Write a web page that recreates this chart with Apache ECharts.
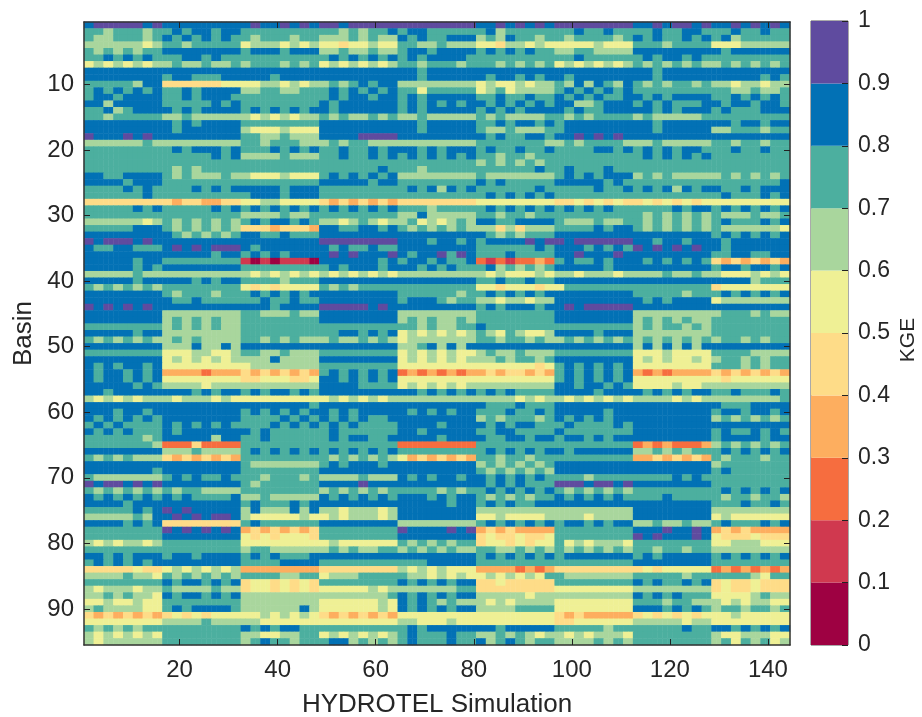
<!DOCTYPE html>
<html><head><meta charset="utf-8">
<style>html,body{margin:0;padding:0;background:#fff}#c{width:922px;height:717px}</style>
<script src="https://cdn.jsdelivr.net/npm/echarts@6/dist/echarts.min.js"></script>
</head><body><div id="c"></div>
<script>
// Colour class of each basin (rows) per pair of simulations (two columns per digit).
// digit d means KGE between d/10 and (d+1)/10.
const kgeRows = [
"89999989 88888888 89889898 99899999 99999999 88989898 99999999 88989989 88989898",
"77677767 78788788 77777777 77676778 78877777 78677777 77877877 77877887 77877877",
"76677767 87878787 76777677 66676766 87877888 67687767 76777767 87877878 78677777",
"66666656 77677777 56665656 55455655 77667666 55466565 55556555 77767777 55566666",
"76767677 88888888 78887888 66766766 78878888 78787877 66776666 88888888 87888888",
"77878787 77887877 77777777 78787878 78788887 77777777 77877777 78788787 77777777",
"56565656 67667667 67776767 56565656 77677767 77676767 56565656 76767676 67676767",
"88888888 88888888 88888888 88888888 88788888 88888888 88888888 88788888 88888888",
"88888888 78877788 88878888 88888888 88788888 87887878 87888888 88788888 88888787",
"77777688 44444455 55665656 67678788 66666666 56556566 76868768 76767767 66566566",
"78787878 77878888 66776677 78787878 77577777 56756666 78787878 77777777 77667667",
"78878888 77878887 77777777 78788788 78788888 77877877 87878778 87878888 77878787",
"88688888 77777878 77777777 87888888 78787878 87878787 88667888 78787778 87887887",
"77867888 87878888 78787878 87888888 78788888 78787888 87877888 88787888 78777888",
"77677777 66766666 65656566 76766767 66766666 76766667 76767777 67666667 77777777",
"88888888 87878888 77777777 88888888 88788888 77878878 78888888 88788888 88788788",
"88888888 87888888 65556555 88888888 88788888 76676667 78888888 88788888 66777677",
"98889898 88888888 77667666 88889999 88888888 87877887 88989898 88888888 88888888",
"66666676 66666666 77677766 67677666 66666666 77777776 67677776 66766666 77677677",
"77777777 78788878 77787878 77877878 88787888 78778778 77778878 78787887 77877877",
"77777777 77777878 66667666 77877878 78787878 77677677 77777777 78787878 77777777",
"77777777 77777777 77777777 77777777 77777777 67676767 77777777 77777777 77777777",
"77777777 76767777 77777777 77777787 77677777 77777787 78777877 77777777 77777777",
"88778888 76766676 65556555 78787878 66666666 76666666 78787888 67676666 67676767",
"88887888 77777777 77777777 88888788 77777777 87877777 88888787 77777777 77777778",
"77778787 77787878 88887888 77777777 78786878 77777787 77778778 78786878 87787888",
"77777787 77777777 78887888 77777777 77777777 78787878 77777777 77777777 78777878",
"44444444 43443344 55665555 43434343 44444444 55555555 44545454 45454545 55555555",
"77777878 77777878 78787878 78787878 77767777 78787878 78787877 77778788 78787878",
"77777777 77777777 66667667 77777777 66866666 77677677 77777777 76767676 76667667",
"66666656 76767676 78788787 66567656 67565676 88778888 76667667 76767676 78777878",
"77777888 76767676 44434443 88778878 76767676 66464666 77778788 76767676 76666665",
"88888888 87676767 88778777 88888888 88888888 87676777 88888888 88888888 78787878",
"98999898 88888888 88888888 99999999 88878878 78888989 98999999 88788788 87888888",
"87788777 89898999 87888888 87877877 88888888 77777787 88878787 98989898 87888888",
"88888888 88888788 78787888 89898889 87889798 77787777 88988898 88888888 77887788",
"88888788 77777777 10101110 88888878 78878778 21212232 78778788 87878787 43434343",
"88888787 88888888 77777777 78788878 88787877 78676767 88888788 88888888 78878878",
"66666766 66666666 65656565 65656565 66666666 65655565 66566656 66676676 65556565",
"88888788 88878788 77776777 88888888 88888888 77877877 88888888 88888888 88886777",
"76767676 77777777 54545555 76767777 77777777 55455545 57777777 77777777 45555555",
"88888888 76777677 78787878 88888888 77777767 78787878 88888888 77777677 78787878",
"88888888 87787777 77877877 88888888 78887677 66566566 88888888 87878888 56666666",
"98989898 88888888 88878888 99999898 88888888 78788878 89899999 88888888 88888888",
"88888888 66666666 77666766 88888888 66666666 77777777 88888888 66666666 67776766",
"88888888 67676766 77777777 88888888 67676676 77777777 88888888 67676766 77777777",
"77777777 67676766 77777777 77777777 77676677 87777777 77777777 67677676 77777777",
"88888788 66666666 77777777 77887878 56565656 76576556 88887888 66666666 77777777",
"76767676 67676666 77676766 67667676 56666666 77677676 67676767 67676767 67767677",
"88888888 66686686 88888888 88888888 66786868 88888888 88888888 68686868 88888888",
"77777777 55566556 77667666 77777777 56565655 67667666 77777777 55565555 77776666",
"88888888 56565656 66686666 88888888 56565656 66767767 88888888 56565565 67767677",
"87878878 55555555 56666666 77777777 55555555 55555545 78787878 55555555 77767677",
"87887878 33332333 43434343 78787878 23232323 34344343 78787878 32323333 43434343",
"87887878 55555555 44555445 88787878 55555555 55555555 78787878 55555555 54555555",
"88888787 66665666 66666666 88887777 56565656 66666666 88788787 55556556 66666666",
"88788888 88878788 78788787 88888888 88787878 78787777 88887888 87878788 77877787",
"65656566 65666565 55555555 56565656 66666666 66665656 65656565 66665656 66666667",
"88888888 88888888 88888887 88888888 88888888 87778777 88888888 88888888 87778888",
"88878878 88888888 78787878 87878888 87878788 77787787 88888788 88888888 78878878",
"87878787 88888888 77778787 87878778 88888888 67677767 87878788 88888888 67676767",
"78787777 87878787 77787878 78787777 88887888 87878877 78777787 88888888 88888888",
"87878777 87888888 87877777 78777777 88788888 77887777 87777777 88888888 78778787",
"77777767 88888688 77877777 78788778 88887888 87788788 78878788 88888888 78888788",
"77777776 22242222 77777777 77777777 22222222 77777777 77777777 23232223 67676767",
"88888888 66676666 78787878 78787878 77777777 78787878 87888888 66767677 78787878",
"76767666 43434343 77777777 76767676 53434343 77677677 77777777 33434343 76777677",
"88888888 88888888 76666666 78788878 88888888 67676767 88888888 88888888 67777777",
"88888887 88888888 77777777 88888888 88888888 76767676 88888888 88888888 78777777",
"76666666 78787787 77677767 66667666 87878878 87878787 77767777 77778787 77777777",
"98998989 88888888 76777777 88889888 88888888 87878777 99989989 88888888 77777777",
"76767676 76776666 77777777 67676767 77776767 78787878 76767676 77777777 78787878",
"87878787 87877778 66766666 87878787 88878788 76767677 87878787 77787777 76776776",
"88887888 88888888 78777878 88888888 88888788 78787788 88888888 88888888 77787787",
"77777878 98988888 68666868 66566656 88888888 66666666 66666666 88888888 66666666",
"66666768 89898998 65555565 56566656 88888888 55655556 66656666 88888888 56555555",
"88887878 44444444 78777777 88888888 66666666 78787878 78878788 66766766 78777878",
"77777777 98989898 34343434 77777777 98888989 34343333 77777777 88898898 34343333",
"77777777 88888888 54545554 77777777 88888888 45445445 77777777 98988898 54445444",
"65656656 77777777 55555555 56555555 76767677 45545455 75656665 77777777 55666555",
"77777777 77777777 67766666 67676677 67676766 77667676 76767676 77677677 66666666",
"88787888 78878888 78787778 88888888 88888888 78787878 78888888 78788888 78787878",
"78787878 88888888 77778888 77777777 77788888 77777777 77777777 88888888 77777777",
"44444544 56565656 33333333 44444444 65656555 33332323 44444444 45455555 23232323",
"66667665 76767676 77776677 56667777 76656565 56565657 76666666 77777677 77776577",
"77777777 87887878 45545454 77777777 87878788 44544444 77777777 87877878 45445444",
"65666566 76666766 45545454 55555656 66666677 44444444 55555555 66666666 45445444",
"66767665 87887878 66666666 66666667 87878788 66666566 66666666 87878777 55556766",
"55655655 77777777 66666666 55555565 87876766 65656666 55555555 77767766 65656655",
"67666655 78788887 66666686 55555565 87878788 66667777 55555555 88878787 67767767",
"43434343 45454555 55656565 43434343 55555555 55555555 43433333 45454545 55655555",
"55555555 66667666 66555555 55555555 66555655 55555555 44555555 66666566 55555555",
"76767677 77777777 87878877 77777777 78788888 88788888 77777677 77777877 88787878",
"65656565 77777777 66556677 56565656 78777877 66767656 65656665 77777777 65566655",
"65666666 77777777 67877677 78867676 78777877 86787677 66667676 77777777 67576756"
];
const binColors = ["#9e0142","#d0394f","#f66d3f","#fdae5f","#fedc88","#eff095","#a9d69d","#4caf9f","#0271b5","#5f4b9f"];
const binEdges = [0,0.1,0.2,0.3,0.4,0.5,0.6,0.7,0.8,0.9,1];
const xTickValues = [20,40,60,80,100,120,140];
const yTickValues = [10,20,30,40,50,60,70,80,90];
const simCount = 144;
const basinCount = 95;

const simulations = Array.from({length:simCount},(_,i)=>String(i+1));
const basins = Array.from({length:basinCount},(_,i)=>String(i+1));
const cells = [];
kgeRows.forEach((row,r)=>{
  const digits = row.replace(/ /g,'');
  for(let c=0;c<simCount;c++){
    const d = +digits[Math.floor(c/2)];
    cells.push([c,r,binEdges[d]+0.05]);
  }
});

const font = 'Liberation Sans, Arial, sans-serif';
const ink = '#262626';
const xTick = (i,v)=>xTickValues.includes(+v);
const yTick = (i,v)=>yTickValues.includes(+v);

const xBase = {type:'category',data:simulations,gridIndex:0,z:6,
  axisLine:{show:true,onZero:false,lineStyle:{color:'#333',width:1.5}},splitLine:{show:false},splitArea:{show:false}};
const yBase = {type:'category',data:basins,inverse:true,gridIndex:0,z:6,
  axisLine:{show:true,onZero:false,lineStyle:{color:'#333',width:1.5}},splitLine:{show:false},splitArea:{show:false}};

const option = {
  animation:false,
  backgroundColor:'#fff',
  textStyle:{fontFamily:font},
  grid:[
    {left:84,top:22,width:706,height:623,outerBoundsMode:'none',containLabel:false},
    {left:811,top:21,width:37,height:624,show:true,borderColor:'#555',borderWidth:1,backgroundColor:'transparent',outerBoundsMode:'none',containLabel:false}
  ],
  xAxis:[
    Object.assign({},xBase,{position:'bottom',
      name:'HYDROTEL Simulation',nameLocation:'middle',nameGap:47,
      nameTextStyle:{fontSize:26,color:ink,fontFamily:font},
      axisTick:{show:true,inside:true,length:6,alignWithLabel:true,interval:xTick,lineStyle:{color:'#222',width:1}},
      axisLabel:{show:true,interval:xTick,fontSize:24,color:ink,margin:13,fontFamily:font,hideOverlap:false}}),
    Object.assign({},xBase,{position:'top',
      axisTick:{show:true,inside:true,length:6,alignWithLabel:true,interval:xTick,lineStyle:{color:'#222',width:1}},
      axisLabel:{show:false}}),
    {type:'category',data:['KGE'],gridIndex:1,axisLine:{show:false},axisTick:{show:false},axisLabel:{show:false},splitLine:{show:false}}
  ],
  yAxis:[
    Object.assign({},yBase,{position:'left',
      name:'Basin',nameLocation:'middle',nameGap:47,nameRotate:90,
      nameTextStyle:{fontSize:26,color:ink,fontFamily:font},
      axisTick:{show:true,inside:true,length:6,alignWithLabel:true,interval:yTick,lineStyle:{color:'#222',width:1}},
      axisLabel:{show:true,interval:yTick,fontSize:24,color:ink,margin:10,fontFamily:font,hideOverlap:false}}),
    Object.assign({},yBase,{position:'right',
      axisTick:{show:true,inside:true,length:6,alignWithLabel:true,interval:yTick,lineStyle:{color:'#222',width:1}},
      axisLabel:{show:false}}),
    {type:'value',gridIndex:1,min:0,max:1,interval:0.1,position:'right',z:6,
      name:'KGE',nameLocation:'middle',nameGap:50,nameRotate:90,
      nameTextStyle:{fontSize:21,color:ink,fontFamily:font,padding:[0,14,0,0]},
      axisLine:{show:false},splitLine:{show:false},
      axisTick:{show:true,inside:true,length:6,lineStyle:{color:'#222',width:1}},
      axisLabel:{show:true,fontSize:23,color:ink,margin:10,fontFamily:font,
        formatter:v=>String(Math.round(v*10)/10)}}
  ],
  visualMap:{show:false,type:'piecewise',seriesIndex:0,dimension:2,
    pieces:binColors.map((c,i)=>({gte:binEdges[i],lt:binEdges[i+1],color:c}))},
  series:[
    {type:'heatmap',xAxisIndex:0,yAxisIndex:0,data:cells,progressive:0,
      itemStyle:{borderWidth:0},emphasis:{disabled:true}}
  ].concat(binColors.map((c,i)=>({
    type:'bar',xAxisIndex:2,yAxisIndex:2,stack:'bar',barWidth:'100%',silent:true,
    data:[binEdges[i+1]-binEdges[i]],itemStyle:{color:c}
  })))
};
const chart = echarts.init(document.getElementById('c'),null,{renderer:'canvas'});
chart.setOption(option);
</script></body></html>
